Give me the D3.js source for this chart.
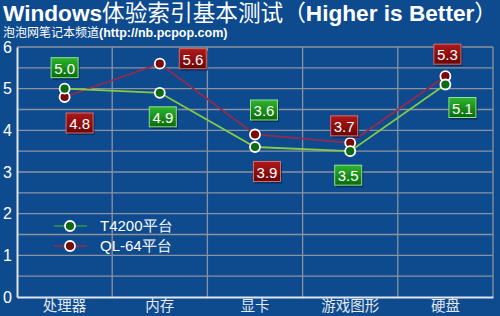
<!DOCTYPE html>
<html>
<head>
<meta charset="utf-8">
<script src="https://cdn.jsdelivr.net/npm/d3@7"></script>
<style>
  body { margin: 0; background: #0d4a8e; }
  svg { display: block; }
</style>
</head>
<body>
<div class="chart"></div>
<script>
// chart data
var categories = ["处理器", "内存", "显卡", "游戏图形", "硬盘"];
var t4200 = [5.0, 4.9, 3.6, 3.5, 5.1];
var ql64 = [4.8, 5.6, 3.9, 3.7, 5.3];
var seriesNames = ["T4200平台", "QL-64平台"];
var yTicks = [0, 1, 2, 3, 4, 5, 6];

// where each value box sits relative to its point (pixels)
var t4200LabelOffset = [[0, -21], [3, 24], [9, -37], [-2, 24], [17, 23]];
var ql64LabelOffset = [[15, 26], [33, -5], [12, 37], [-6, -17], [2, -22]];

var svgWidth = 500;
var svgHeight = 316;

var margin = { top: 47, right: 7, bottom: 19, left: 17 };
var width = svgWidth - margin.left - margin.right;
var height = svgHeight - margin.top - margin.bottom;

var svg = d3.select(".chart")
  .append("svg")
  .attr("width", svgWidth)
  .attr("height", svgHeight);

var defs = svg.append("defs");

function boxGradient(id, top, bottom) {
  var g = defs.append("linearGradient")
    .attr("id", id)
    .attr("x1", 0).attr("y1", 0).attr("x2", 0).attr("y2", 1);
  g.append("stop").attr("offset", "0%").attr("stop-color", top);
  g.append("stop").attr("offset", "100%").attr("stop-color", bottom);
}
boxGradient("gGreen", "#2eb52e", "#0a6a0a");
boxGradient("gRed", "#b01818", "#6a0606");

// title
var title = svg.append("text")
  .attr("x", 3)
  .attr("y", 21)
  .attr("fill", "#ffffff")
  .style("font-size", "22.5px");
title.append("tspan")
  .style("font-family", "Liberation Sans, Arial, sans-serif")
  .style("font-weight", "bold")
  .text("Windows");
title.append("tspan")
  .style("font-family", "Noto Sans CJK SC, sans-serif")
  .text("体验索引基本测试（");
title.append("tspan")
  .style("font-family", "Liberation Sans, Arial, sans-serif")
  .style("font-weight", "bold")
  .text("Higher is Better");
title.append("tspan")
  .style("font-family", "Noto Sans CJK SC, sans-serif")
  .text("）");

var sub = svg.append("text")
  .attr("x", 3)
  .attr("y", 37)
  .attr("fill", "#ffffff")
  .style("font-size", "12.5px");
sub.append("tspan")
  .style("font-family", "Noto Sans CJK SC, sans-serif")
  .style("font-size", "12px")
  .text("泡泡网笔记本频道");
sub.append("tspan")
  .style("font-family", "Liberation Sans, Arial, sans-serif")
  .style("font-weight", "bold")
  .text("(http://nb.pcpop.com)");

var chartGroup = svg.append("g")
  .attr("transform", `translate(${margin.left}, ${margin.top})`);

var xScale = d3.scaleBand()
  .domain(categories)
  .range([0, width]);

var yScale = d3.scaleLinear()
  .domain([0, 6])
  .range([height, 0]);

// horizontal grid every 0.5
var gridVals = d3.range(0.5, 6.01, 0.5);
chartGroup.append("g")
  .selectAll("line")
  .data(gridVals)
  .enter()
  .append("line")
  .attr("x1", 0)
  .attr("x2", width)
  .attr("y1", d => yScale(d))
  .attr("y2", d => yScale(d))
  .attr("stroke", "#8c93a0")
  .attr("stroke-width", 1.3);

// vertical grid at band edges
chartGroup.append("g")
  .selectAll("line")
  .data(categories.slice(1).concat(["end"]))
  .enter()
  .append("line")
  .attr("x1", d => d == "end" ? width : xScale(d))
  .attr("x2", d => d == "end" ? width : xScale(d))
  .attr("y1", 0)
  .attr("y2", height)
  .attr("stroke", "#8c93a0")
  .attr("stroke-width", 1.3);

// axes
var leftAxis = d3.axisLeft(yScale)
  .tickValues(yTicks)
  .tickFormat(d3.format("d"))
  .tickSize(0)
  .tickPadding(5);
var yAxis = chartGroup.append("g").call(leftAxis);
yAxis.select(".domain").attr("stroke", "#dfe6f0").attr("stroke-width", 2);
yAxis.selectAll("text")
  .attr("fill", "#ffffff")
  .style("font-family", "Liberation Sans, Arial, sans-serif")
  .style("font-size", "16px");

var bottomAxis = d3.axisBottom(xScale).tickSize(0).tickPadding(4);
var xAxis = chartGroup.append("g")
  .attr("transform", `translate(0, ${height})`)
  .call(bottomAxis);
xAxis.select(".domain").attr("stroke", "#dfe6f0").attr("stroke-width", 2);
xAxis.selectAll("text")
  .attr("fill", "#e4e8f0")
  .style("font-family", "Noto Sans CJK SC, sans-serif")
  .style("font-size", "14.5px");

var cx = d => xScale(d) + xScale.bandwidth() / 2;

function drawSeries(values, lineColor) {
  var line = d3.line()
    .x((d, i) => cx(categories[i]))
    .y(d => yScale(d));

  chartGroup.append("path")
    .datum(values)
    .attr("d", line)
    .attr("fill", "none")
    .attr("stroke", lineColor)
    .attr("stroke-width", 1.8);
}

function drawDots(values, dotColor) {
  chartGroup.append("g")
    .selectAll("circle")
    .data(values)
    .enter()
    .append("circle")
    .attr("cx", (d, i) => cx(categories[i]))
    .attr("cy", d => yScale(d))
    .attr("r", 5)
    .attr("fill", dotColor)
    .attr("stroke", "#ffffff")
    .attr("stroke-width", 1.8);
}

function drawBoxes(values, offsets, fillId, edge) {
  var g = chartGroup.append("g")
    .selectAll("g")
    .data(values)
    .enter()
    .append("g")
    .attr("transform", (d, i) =>
      `translate(${cx(categories[i]) + offsets[i][0]}, ${yScale(d) + offsets[i][1]})`);

  g.append("rect")
    .attr("x", -12).attr("y", -8)
    .attr("width", 27).attr("height", 20)
    .attr("fill", "#06244a")
    .attr("opacity", 0.7);
  g.append("rect")
    .attr("x", -13.5).attr("y", -10)
    .attr("width", 27).attr("height", 20)
    .attr("fill", `url(#${fillId})`)
    .attr("stroke", edge)
    .attr("stroke-width", 1);
  g.append("text")
    .attr("text-anchor", "middle")
    .attr("y", 6)
    .attr("fill", "#ffffff")
    .style("font-family", "Liberation Sans, Arial, sans-serif")
    .style("font-size", "15px")
    .text(d => d.toFixed(1));
}

drawSeries(ql64, "#962a4c");
drawSeries(t4200, "#84cc44");
drawDots(ql64, "#7a0a0a");
drawDots(t4200, "#0f6a14");
drawBoxes(t4200, t4200LabelOffset, "gGreen", "#8fe08f");
drawBoxes(ql64, ql64LabelOffset, "gRed", "#d86a6a");

// legend
var legend = chartGroup.append("g")
  .attr("transform", `translate(${70 - margin.left}, ${226 - margin.top})`);
var legendColors = [["#2e9a4a", "#0f6a14"], ["#962a4c", "#7a0a0a"]];
seriesNames.forEach(function (name, i) {
  var row = legend.append("g").attr("transform", `translate(0, ${i * 20})`);
  row.append("line")
    .attr("x1", -16).attr("x2", 17)
    .attr("stroke", legendColors[i][0])
    .attr("stroke-width", 1.6);
  row.append("circle")
    .attr("r", 5)
    .attr("fill", legendColors[i][1])
    .attr("stroke", "#ffffff")
    .attr("stroke-width", 1.8);
  row.append("text")
    .attr("x", 30)
    .attr("y", 5)
    .attr("fill", "#ffffff")
    .style("font-family", "Liberation Sans, Arial, sans-serif")
    .style("font-size", "15px")
    .text(name);
});

// stretch the title to the reference's width
title.attr("textLength", 494).attr("lengthAdjust", "spacingAndGlyphs");
</script>
</body>
</html>
